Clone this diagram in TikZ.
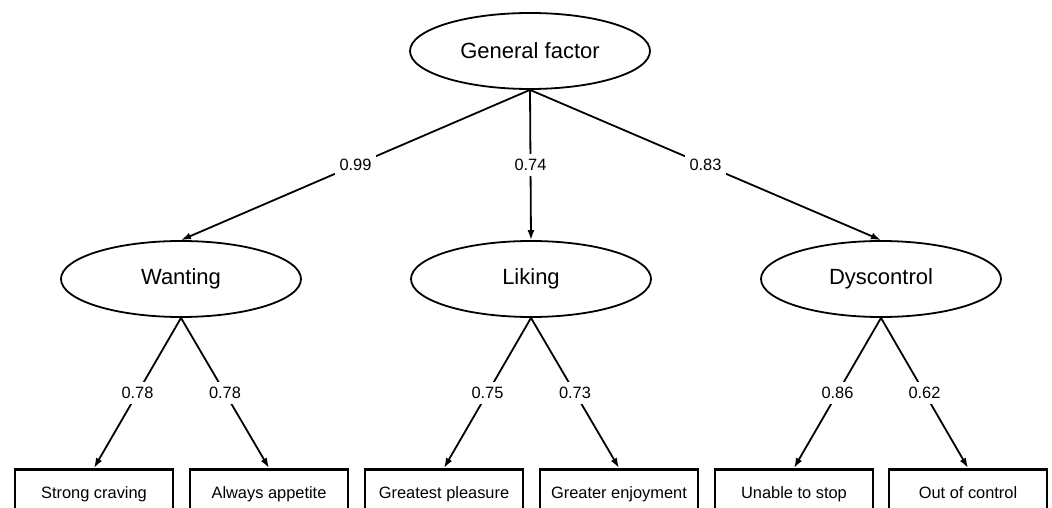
\documentclass[tikz,border=0pt]{standalone}
\usepackage{fontspec}
\setmainfont{Liberation Sans}
\usetikzlibrary{shapes.geometric, arrows.meta}

\tikzstyle{factor} = [
	draw = black,
	ellipse,
	line width = 1.8pt,
	minimum width = 240pt,
	minimum height = 76pt,
	inner sep = 0pt,
	font = \fontsize{22}{26}\selectfont
	]
\tikzstyle{item} = [
	draw = black,
	rectangle,
	line width = 2.8pt,
	minimum width = 158pt,
	minimum height = 50pt,
	text height = 12pt,
	text depth = 3.5pt,
	anchor = north,
	font = \fontsize{16.4}{20}\selectfont
	]
\tikzstyle{weight} = [
	fill = white,
	inner sep = 5pt,
	font = \fontsize{16.4}{20}\selectfont
	]
\tikzstyle{load} = [
	->,
	>={Latex[length=10pt, width=7pt]},
	line width = 1.8pt
	]

\begin{document}
\begin{tikzpicture}[x=1pt, y=-1pt]
	\useasboundingbox (0,0) rectangle (1052,508);

			   \node[factor] (general) at (530,51) {General factor};

			   \node[factor] (f1) at (181,279) {Wanting};
			   \node[factor] (f2) at (531,279) {Liking};
			   \node[factor] (f3) at (881,279) {Dyscontrol};

			   \node[item] (i1) at (94,468) {Strong craving};
			   \node[item] (i2) at (269,468) {Always appetite};
			   \node[item] (i3) at (444,468) {Greatest pleasure};
			   \node[item] (i4) at (619,468) {Greater enjoyment};
			   \node[item] (i5) at (794,468) {Unable to stop};
			   \node[item] (i6) at (968,468) {Out of control};

			   \draw[load] (general.south) -- node[weight]{0.99} (f1.north);
			   \draw[load] (general.south) -- node[weight]{0.74} (f2.north);
			   \draw[load] (general.south) -- node[weight]{0.83} (f3.north);

			   \draw[load] (f1.south) -- node[weight]{0.78} (i1.north);
			   \draw[load] (f1.south) -- node[weight]{0.78} (i2.north);
			   \draw[load] (f2.south) -- node[weight]{0.75} (i3.north);
			   \draw[load] (f2.south) -- node[weight]{0.73} (i4.north);
			   \draw[load] (f3.south) -- node[weight]{0.86} (i5.north);
			   \draw[load] (f3.south) -- node[weight]{0.62} (i6.north);
		   \end{tikzpicture}
\end{document}
